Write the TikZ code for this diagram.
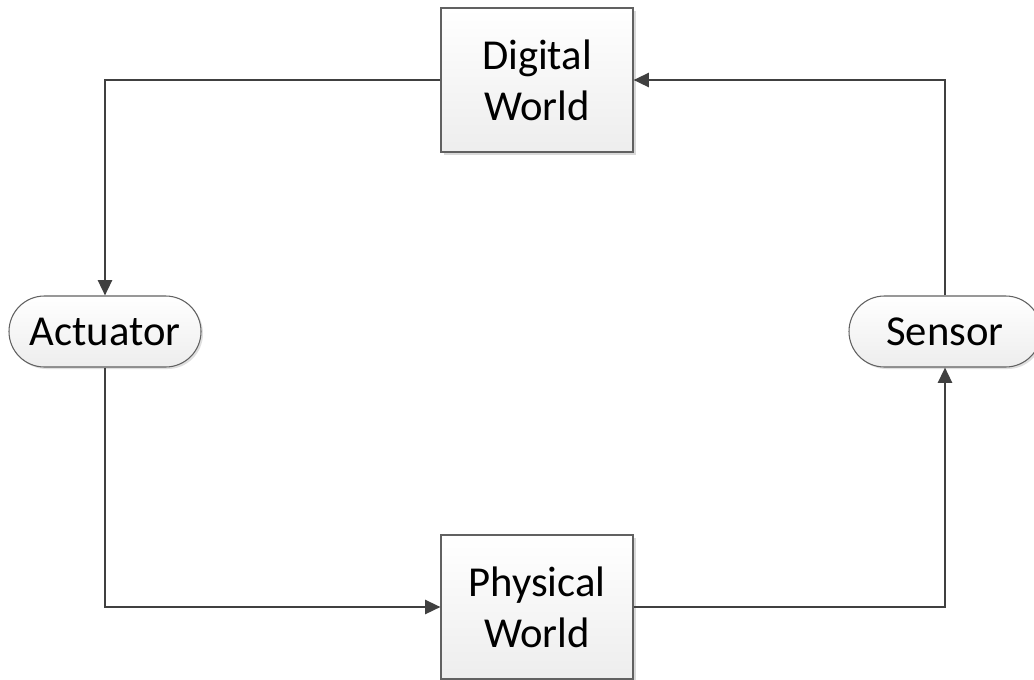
\documentclass[tikz,border=0pt]{standalone}
\usepackage{fontspec}
\setmainfont{Carlito}
\usetikzlibrary{arrows.meta,shadows,positioning}
\begin{document}
\begin{tikzpicture}[x=0.75pt,y=-0.75pt,
  block/.style={draw=black!62, line width=0.8pt, top color=white, bottom color=black!7,
    minimum width=144pt, minimum height=108pt, align=center,
    font=\fontsize{32}{38.5}\selectfont, inner sep=0pt,
    drop shadow={shadow xshift=2.5pt, shadow yshift=-2.5pt, fill=black!25, opacity=0.6}},
  term/.style={draw=black!62, line width=0.8pt, top color=white, bottom color=black!7,
    rounded corners=26.6pt, minimum width=144pt, minimum height=53.25pt,
    font=\fontsize{32}{38.5}\selectfont, inner sep=0pt,
    drop shadow={shadow xshift=1.5pt, shadow yshift=-1.5pt, fill=black!25, opacity=0.5}},
  link/.style={draw=black!75, line width=1.8pt,
    -{Triangle[length=11.5pt, width=10.5pt]}}]
\useasboundingbox (0,0) rectangle (1034,679);
\node[block] (digital) at (537,80) {Digital\\World};
\node[block] (physical) at (537,607) {Physical\\World};
\node[term] (actuator) at (105,331.5) {Actuator};
\node[term] (sensor) at (945,331.5) {Sensor};
\draw[link] (digital.west) -| (actuator.north);
\draw[link] (actuator.south) |- (physical.west);
\draw[link] (physical.east) -| (sensor.south);
\draw[link] (sensor.north) |- (digital.east);
\end{tikzpicture}
\end{document}
